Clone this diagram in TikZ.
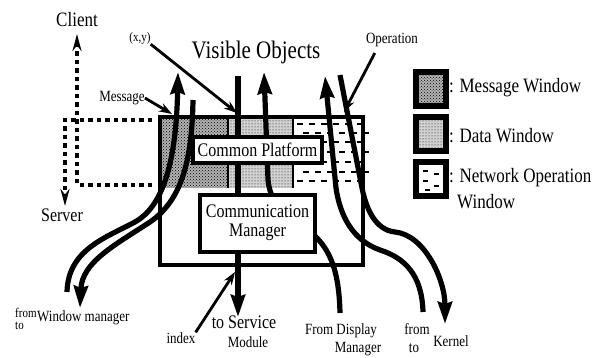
\documentclass[tikz,border=0pt]{standalone}
\usepackage{fontspec}
\setmainfont{Liberation Serif}
\usepackage{graphicx}
\usetikzlibrary{arrows.meta,patterns}
\newcommand\tx[1]{\scalebox{1}[1.2]{#1}}
\begin{document}
\begin{tikzpicture}[x=1pt,y=-1pt,
  bigarrow/.style={line width=5.2pt,-{Stealth[length=22pt,width=14pt,inset=2pt]}},
  pointer/.style={line width=2.8pt,-{Stealth[length=13pt,width=9pt]}},
  dashline/.style={line width=3.2pt,dash pattern=on 4.5pt off 4pt,-{Stealth[length=17pt,width=9pt]}},
  boxframe/.style={draw,line width=3.2pt,fill=white,inner sep=0pt},
  lblS/.style={inner sep=0pt,font=\fontsize{13}{14}\selectfont},
  lblT/.style={inner sep=0pt,font=\fontsize{11}{12}\selectfont},
  lblM/.style={inner sep=0pt,font=\fontsize{16}{18}\selectfont},
  lblL/.style={inner sep=0pt,font=\fontsize{17}{19}\selectfont},
  netdash/.style={line width=2.6pt},
  legbox/.style={draw,line width=6pt},
  msgfill/.style={fill=black!30,postaction={pattern=crosshatch dots}},
  datafill/.style={fill=black!18,postaction={pattern=dots}}
]
\useasboundingbox (0,0) rectangle (603,358);

% band patterns
\path[msgfill] (160,117) rectangle (228,188);
\path[datafill] (228,117) rectangle (293,188);
\foreach \yy/\off in {124/0,133/6,142/0,152/6,162/0,172/6,181/0}{
  \foreach \xx in {297,309,...,357}{
    \draw[netdash] (\xx+\off,\yy) -- (\xx+\off+6,\yy);
  }
}
\draw[line width=2.4pt] (228,117) -- (228,188);
\draw[line width=2.4pt] (293,117) -- (293,188);

% coordinates of line ends
\coordinate (voA) at (178,72);
\coordinate (wmFrom) at (67,292);
\coordinate (wmToStart) at (193,100);
\coordinate (wmTo) at (80,308);
\coordinate (midTop) at (238,76);
\coordinate (svc) at (238,317);
\coordinate (voC) at (264,72);
\coordinate (dispFrom) at (340,313);
\coordinate (opUp) at (325,76);
\coordinate (kFrom) at (423,312);
\coordinate (opDown) at (340,75);
\coordinate (kTo) at (445,324);
\coordinate (cl) at (77,34);
\coordinate (sv) at (65,206);
\coordinate (dA) at (152,185);
\coordinate (dB) at (152,120);

% thick lines
\draw[bigarrow] (wmFrom) .. controls (68,250) and (105,238) .. (135,222)
  .. controls (160,208) and (176,170) .. (voA);
\draw[bigarrow] (wmToStart) .. controls (192,160) and (182,200) .. (150,222)
  .. controls (115,245) and (82,262) .. (wmTo);
\draw[bigarrow] (midTop) -- (svc);
\draw[bigarrow] (dispFrom) .. controls (339,270) and (330,245) .. (305,228)
  .. controls (280,212) and (270,200) .. (268,180) -- (voC);
\draw[bigarrow] (kFrom) .. controls (422,275) and (405,258) .. (380,250)
  .. controls (352,240) and (340,215) .. (336,188) -- (opUp);
\draw[bigarrow] (opDown) -- (362,188) .. controls (366,208) and (375,230) .. (395,232)
  .. controls (425,235) and (445,280) .. (kTo);

% dashed client/server
\draw[dashline] (dA) -| (cl);
\draw[dashline] (dB) -| (sv);

% boxes
\node[boxframe,minimum width=129pt,minimum height=26pt,lblM] (cp) at (257.5,150) {\tx{Common Platform}};
\node[boxframe,minimum width=115pt,minimum height=57pt,lblM] (cm) at (257.5,223.5)
  {\begin{tabular}{@{}c@{}}\tx{Communication}\\[1pt]\tx{Manager}\end{tabular}};
\draw[line width=3.2pt] (160,117) rectangle (363,265);

% labels
\node[lblL] (client) at (77,20) {\tx{Client}};
\node[lblM] (server) at (62,215) {\tx{Server}};
\node[inner sep=0pt,font=\fontsize{21}{24}\selectfont] (vo) at (256,52) {\tx{Visible Objects}};
\node[lblT] (xyLbl) at (140,38) {\tx{(x,y)}};
\node[lblS] (msgLbl) at (122,98) {\tx{Message}};
\node[lblS] (opLbl) at (392,40) {\tx{Operation}};
\coordinate (xyTip) at (237,113);
\coordinate (msgTip) at (172,114);
\coordinate (opTip) at (344,112);
\draw[pointer] (xyLbl.south east) -- (xyTip);
\draw[pointer] (msgLbl.east) -- (msgTip);
\draw[pointer] ([xshift=9pt,yshift=-6pt]opLbl.south west) -- (opTip);

% bottom labels
\node[lblT,anchor=west] (wmF) at (15,313) {\tx{from}};
\node[lblT,anchor=west] (wmT) at (15,326) {\tx{to}};
\node[lblS,anchor=west] (wm) at (37,318) {\tx{Window manager}};
\node[lblS] (idx) at (181,338) {\tx{index}};
\coordinate (idxTip) at (235,272);
\draw[pointer] (idx.north east) -- (idxTip);
\node[lblM] (svcL) at (244,322) {\tx{to Service}};
\node[lblS] (svcM) at (248,342) {\tx{Module}};
\node[lblS] (dispL) at (341,331) {\tx{From Display}};
\node[lblS] (dispM) at (358,349) {\tx{Manager}};
\node[lblS] (kF) at (417,329) {\tx{from}};
\node[lblS] (kT) at (414,348) {\tx{to}};
\node[lblS] (kern) at (451,341) {\tx{Kernel}};

% legend
\path[legbox,msgfill] (416,72) rectangle (446,106);
\draw[legbox] (416,72) rectangle (446,106);
\path[datafill] (416,117) rectangle (446,151);
\draw[legbox] (416,117) rectangle (446,151);
\draw[legbox] (416,162) rectangle (446,196);
\draw[netdash] (423,171) -- (428,171);
\draw[netdash] (434,174) -- (439,174);
\draw[netdash] (423,181) -- (428,181);
\draw[netdash] (434,186) -- (439,186);
\draw[netdash] (425,190) -- (430,190);
\node[lblL,anchor=west] (lg1) at (449,88) {\tx{: Message Window}};
\node[lblL,anchor=west] (lg2) at (449,136) {\tx{: Data Window}};
\node[lblL,anchor=west] (lg3) at (449,178) {\tx{: Network Operation}};
\node[lblL,anchor=west] (lg4) at (457,202) {\tx{Window}};
\end{tikzpicture}
\end{document}
